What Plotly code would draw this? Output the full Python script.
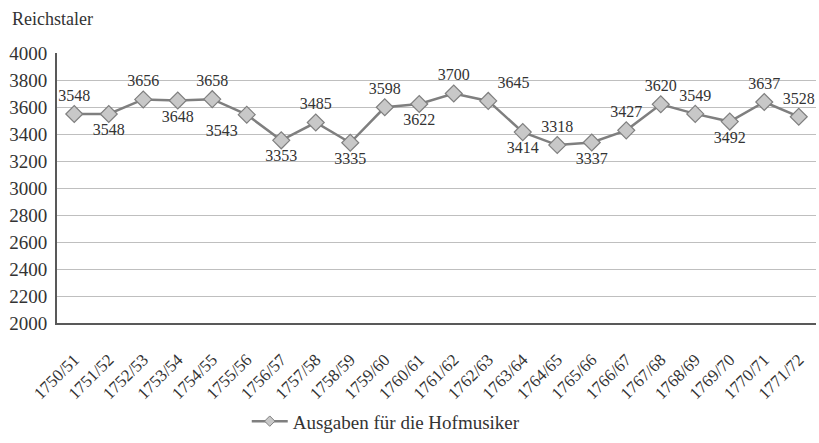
import plotly.graph_objects as go

years = ["1750/51","1751/52","1752/53","1753/54","1754/55","1755/56","1756/57","1757/58",
         "1758/59","1759/60","1760/61","1761/62","1762/63","1763/64","1764/65","1765/66",
         "1766/67","1767/68","1768/69","1769/70","1770/71","1771/72"]
values = [3548,3548,3656,3648,3658,3543,3353,3485,3335,3598,3622,3700,3645,3414,3318,3337,
          3427,3620,3549,3492,3637,3528]
label_pos = ["top center","bottom center","top center","bottom center","top center","bottom left",
             "bottom center","top center","bottom center","top center","bottom center","top center",
             "top right","bottom center","top center","bottom center","top center","top center",
             "top center","bottom center","top center","top center"]
y_ticks = [2000,2200,2400,2600,2800,3000,3200,3400,3600,3800,4000]
series_name = "Ausgaben für die Hofmusiker"

FONT = "Liberation Serif"
TXT = "#333333"

fig = go.Figure()
fig.add_trace(go.Scatter(
    x=years, y=values, mode="lines+markers+text",
    name=series_name, showlegend=False,
    line=dict(color="#7f7f7f", width=2.5),
    marker=dict(symbol="diamond", size=13, color="#c8c8c8", line=dict(color="#7f7f7f", width=1.2)),
    text=[str(v) for v in values], textposition=label_pos,
    textfont=dict(family=FONT, size=16, color=TXT),
    cliponaxis=False,
))
fig.add_trace(go.Scatter(
    x=[None], y=[None], mode="lines+markers", name=series_name, showlegend=True,
    line=dict(color="#7f7f7f", width=2.5),
    marker=dict(symbol="diamond", size=8, color="#c8c8c8", line=dict(color="#7f7f7f", width=1)),
))

fig.update_layout(
    template="none",
    width=819, height=443,
    margin=dict(l=57, r=3, t=53, b=115, pad=0),
    paper_bgcolor="white", plot_bgcolor="white",
    font=dict(family=FONT, color=TXT, size=15),
    showlegend=True,
    legend=dict(orientation="h", x=0.25, xanchor="left", y=-0.364, yanchor="middle",
                font=dict(family=FONT, size=19, color=TXT), itemwidth=36),
    xaxis=dict(type="category", tickangle=-45, tickfont=dict(family=FONT, size=17, color=TXT),
               showgrid=False, showline=True, linecolor="#595959", linewidth=2, automargin=False,
               ticks="", ticklabelstandoff=18, range=[-0.5, len(years)-0.5]),
    yaxis=dict(range=[2000, 4000], tickvals=y_ticks, tickfont=dict(family=FONT, size=19, color=TXT),
               showgrid=True, gridcolor="#bfbfbf", gridwidth=1.2, automargin=False,
               ticklabelstandoff=4,
               showline=True, linecolor="#595959", linewidth=2, ticks="", zeroline=False),
    annotations=[dict(text="Reichstaler", xref="paper", yref="paper", x=-0.062, y=1.127,
                      xanchor="left", yanchor="middle", showarrow=False,
                      font=dict(family=FONT, size=18, color=TXT))],
)

fig.write_html("out.html", config={"displayModeBar": False},
               post_script="document.body.style.margin='0px';")
